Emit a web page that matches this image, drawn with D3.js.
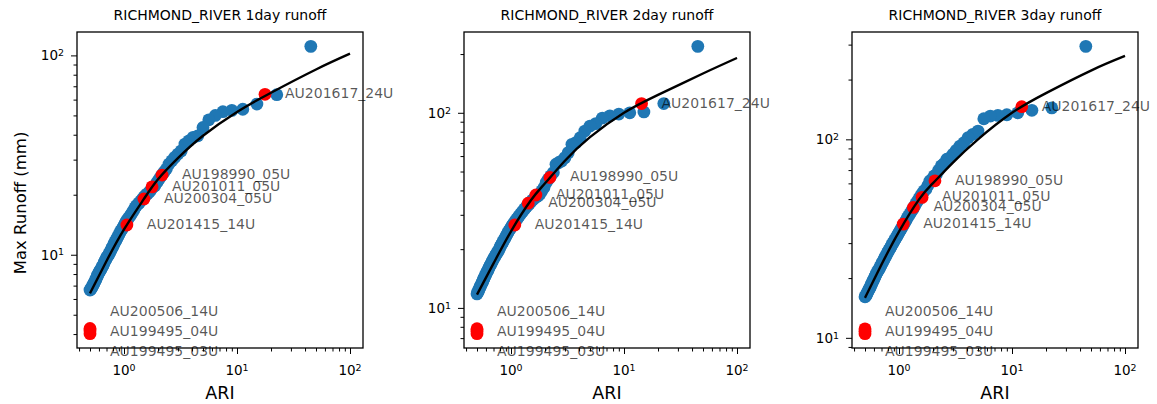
<!DOCTYPE html>
<html>
<head>
<meta charset="utf-8">
<script src="https://cdn.jsdelivr.net/npm/d3@7"></script>
<style>
  html, body { margin: 0; padding: 0; background: #fff; }
  svg { display: block; font-family: "DejaVu Sans", sans-serif; }
</style>
</head>
<body>
<svg id="chart" width="1157" height="404"></svg>
<script>
// ---- data ---------------------------------------------------------------
const site = "RICHMOND_RIVER";
const durations = ["1day", "2day", "3day"];

// ranked annual-recurrence intervals of the observed series (years)
const ari = [45, 22.5, 15, 11.25, 9, 7.5, 6.43, 5.63, 5, 4.5,
  4.09, 3.75, 3.46, 3.21, 3, 2.81, 2.65, 2.5, 2.37, 2.25,
  2.14, 2.05, 1.96, 1.875, 1.8, 1.73, 1.667, 1.607, 1.552, 1.5,
  1.452, 1.406, 1.364, 1.324, 1.286, 1.25, 1.216, 1.184, 1.154, 1.125,
  1.098, 1.071, 1.047, 1.023, 1.0, 0.978, 0.957, 0.938, 0.918, 0.9,
  0.882, 0.865, 0.849, 0.833, 0.818, 0.804, 0.789, 0.776, 0.763, 0.75,
  0.738, 0.726, 0.714, 0.703, 0.692, 0.682, 0.672, 0.662, 0.652, 0.643,
  0.634, 0.625, 0.616, 0.608, 0.6, 0.592, 0.584, 0.577, 0.57, 0.563,
  0.556, 0.549, 0.542, 0.536, 0.529, 0.523, 0.517, 0.511, 0.506, 0.5];

// observed max runoff (mm) per duration, same ranking as ari
const runoff1day = [111, 63.5, 57, 53.7, 53.0, 52.2, 50.0, 47.5, 43.5, 39.5,
  38.8, 37.3, 35.9, 33.2, 32.0, 30.8, 29.6, 28.5, 26.9, 25.9,
  24.9, 24.0, 23.1, 22.2, 21.8, 21.1, 20.6, 20.2, 19.9, 19.5,
  19.0, 18.6, 18.2, 17.9, 17.6, 17.2, 16.7, 16.3, 15.9, 15.6,
  15.3, 15.0, 14.7, 14.4, 14.0, 13.7, 13.4, 13.2, 12.9, 12.6,
  12.3, 12.1, 11.8, 11.6, 11.4, 11.1, 10.9, 10.7, 10.5, 10.3,
  10.1, 9.95, 9.8, 9.7, 9.5, 9.35, 9.2, 9.0, 8.85, 8.7,
  8.6, 8.45, 8.35, 8.25, 8.15, 8.0, 7.9, 7.75, 7.65, 7.5,
  7.4, 7.3, 7.2, 7.1, 7.0, 6.9, 6.85, 6.75, 6.7, 6.65];

const runoff2day = [219, 111.5, 101, 100, 98.5, 96.5, 94, 88, 85.5, 80.6,
  74.5, 70.3, 68.9, 62.5, 58.9, 56.6, 55.6, 54.5, 49.4, 47.5,
  45.7, 44.0, 41.4, 39.8, 38.3, 37.5, 37.0, 36.4, 35.7, 35.0,
  34.2, 33.5, 32.9, 32.2, 31.6, 30.9, 30.3, 29.7, 29.1, 28.5,
  28.0, 27.4, 26.9, 26.4, 25.8, 25.3, 24.8, 24.3, 23.8, 23.2,
  22.7, 22.3, 21.8, 21.4, 21.0, 20.6, 20.1, 19.7, 19.4, 19.1,
  18.8, 18.5, 18.2, 17.9, 17.6, 17.3, 17.0, 16.7, 16.5, 16.2,
  15.9, 15.6, 15.4, 15.1, 14.9, 14.6, 14.4, 14.2, 14.0, 13.7,
  13.5, 13.3, 13.1, 12.9, 12.7, 12.5, 12.3, 12.1, 12.0, 11.8];

const runoff3day = [294, 144, 140, 136, 133, 132, 131, 127, 110, 106,
  102, 96.2, 92.5, 88, 84.1, 80.5, 79.4, 75.5, 73.5, 70,
  66.5, 65.5, 63, 61.7, 58.5, 56, 55.0, 53.5, 51.8, 50.2,
  48.8, 47.3, 45.8, 44.5, 43.3, 42.2, 41.2, 40.2, 39.1, 38.1,
  37.2, 36.3, 35.5, 34.7, 33.9, 33.2, 32.4, 31.8, 31.2, 30.6,
  30.0, 29.4, 28.8, 28.3, 27.8, 27.3, 26.8, 26.3, 25.8, 25.4,
  24.9, 24.4, 24.0, 23.6, 23.2, 22.8, 22.4, 22.1, 21.8, 21.5,
  21.2, 20.8, 20.5, 20.1, 19.8, 19.5, 19.2, 18.9, 18.6, 18.3,
  18.0, 17.8, 17.5, 17.3, 17.0, 16.8, 16.6, 16.4, 16.2, 16.1];

// fitted frequency curve
const fitAri = [0.5, 0.7, 1, 1.5, 2, 3, 5, 10, 20, 50, 100];
const fit1day = [6.4, 9.3, 13.4, 19.05, 23.9, 30.5, 39.5, 52, 65, 85, 102];
const fit2day = [11.7, 16.9, 24.7, 35.6, 43.5, 56.8, 75, 100, 123.5, 159, 191];
const fit3day = [15.9, 23.4, 34.3, 49.7, 60.2, 76.4, 100, 136, 171, 222, 263];

// highlighted events
const eventNames = ["AU201617_24U", "AU198990_05U", "AU201011_05U", "AU200304_05U",
  "AU201415_14U", "AU200506_14U", "AU199495_04U", "AU199495_03U"];
const eventAri1day = [17.7, 2.17, 1.77, 1.5, 1.06, 0.5, 0.5, 0.5];
const eventRunoff1day = [63.8, 25.1, 21.9, 19.05, 14.1, 4.27, 4.14, 4.02];
const eventAri2day = [14.3, 2.21, 1.66, 1.42, 1.08, 0.5, 0.5, 0.5];
const eventRunoff2day = [111.5, 46.6, 37.9, 34.4, 26.6, 7.82, 7.6, 7.38];
const eventAri3day = [12.2, 2.08, 1.6, 1.34, 1.09, 0.5, 0.5, 0.5];
const eventRunoff3day = [146, 61.8, 51, 45.4, 37.4, 11.1, 10.8, 10.5];

const panels = [
  { dur: durations[0], obs: runoff1day, fit: fit1day, evAri: eventAri1day, evVal: eventRunoff1day },
  { dur: durations[1], obs: runoff2day, fit: fit2day, evAri: eventAri2day, evVal: eventRunoff2day },
  { dur: durations[2], obs: runoff3day, fit: fit3day, evAri: eventAri3day, evVal: eventRunoff3day }
];

// ---- layout -------------------------------------------------------------
const svg = d3.select("#chart");
const plotLeft = [77, 464, 852];
const plotTop = 32, plotW = 286, plotH = 316;
const dotR = 6.4;
const blue = "#1f77b4", red = "#ff0000";

// log range padded by 5% on each side (in log space)
function paddedLog(values) {
  const [lo, hi] = d3.extent(values);
  const a = Math.log10(lo), b = Math.log10(hi), m = (b - a) * 0.05;
  return [Math.pow(10, a - m), Math.pow(10, b + m)];
}

function logTicks(domain) {
  const out = [];
  const e0 = Math.floor(Math.log10(domain[0])), e1 = Math.ceil(Math.log10(domain[1]));
  for (let e = e0; e <= e1; e++) {
    for (let k = 1; k <= 9; k++) {
      const v = k * Math.pow(10, e);
      if (v >= domain[0] * 0.9999 && v <= domain[1] * 1.0001) out.push({ v, k, e });
    }
  }
  return out;
}

function powerLabel(sel, e) {
  sel.append("tspan").text("10");
  sel.append("tspan").attr("dy", "-0.45em").attr("font-size", "0.7em").text(String(e));
}

panels.forEach((p, i) => {
  const g = svg.append("g").attr("transform", `translate(${plotLeft[i]},${plotTop})`);

  const x = d3.scaleLog()
    .domain(paddedLog(ari.concat(fitAri, p.evAri)))
    .range([0, plotW]);
  const y = d3.scaleLog()
    .domain(paddedLog(p.obs.concat(p.fit, p.evVal)))
    .range([plotH, 0]);

  // observed points
  g.append("g").selectAll("circle")
    .data(ari.map((a, j) => ({ a, v: p.obs[j] })))
    .join("circle")
    .attr("cx", d => x(d.a)).attr("cy", d => y(d.v))
    .attr("r", dotR).attr("fill", blue);

  // highlighted events
  const events = eventNames.map((n, j) => ({ n, a: p.evAri[j], v: p.evVal[j] }));
  g.append("g").selectAll("circle")
    .data(events)
    .join("circle")
    .attr("cx", d => x(d.a)).attr("cy", d => y(d.v))
    .attr("r", dotR).attr("fill", red);

  // fitted curve
  const line = d3.line()
    .x(d => x(d.a)).y(d => y(d.v))
    .curve(d3.curveNatural);
  g.append("path")
    .datum(fitAri.map((a, j) => ({ a, v: p.fit[j] })))
    .attr("d", line)
    .attr("fill", "none").attr("stroke", "#000").attr("stroke-width", 2.4);

  // axes: minor and major ticks
  const xt = logTicks(x.domain()), yt = logTicks(y.domain());
  const xMinor = d3.axisBottom(x).tickValues(xt.filter(t => t.k !== 1).map(t => t.v)).tickSize(3.5).tickFormat("");
  const xMajor = d3.axisBottom(x).tickValues(xt.filter(t => t.k === 1).map(t => t.v)).tickSize(6).tickFormat("");
  const yMinor = d3.axisLeft(y).tickValues(yt.filter(t => t.k !== 1).map(t => t.v)).tickSize(3.5).tickFormat("");
  const yMajor = d3.axisLeft(y).tickValues(yt.filter(t => t.k === 1).map(t => t.v)).tickSize(6).tickFormat("");
  [xMinor, xMajor].forEach(ax => g.append("g").attr("transform", `translate(0,${plotH})`).call(ax));
  [yMinor, yMajor].forEach(ax => g.append("g").call(ax));
  g.selectAll(".domain").remove();
  g.selectAll(".tick line").attr("stroke", "#000").attr("stroke-width", 1);

  // frame
  g.append("rect").attr("x", 0).attr("y", 0).attr("width", plotW).attr("height", plotH)
    .attr("fill", "none").attr("stroke", "#000").attr("stroke-width", 1.3);

  // tick labels
  xt.filter(t => t.k === 1).forEach(t => {
    const tx = g.append("text").attr("x", x(t.v)).attr("y", plotH + 27)
      .attr("text-anchor", "middle").attr("font-size", 13.5).attr("fill", "#000");
    powerLabel(tx, t.e);
  });
  yt.filter(t => t.k === 1).forEach(t => {
    const ty = g.append("text").attr("x", -13).attr("y", y(t.v) + 5)
      .attr("text-anchor", "end").attr("font-size", 13.5).attr("fill", "#000");
    powerLabel(ty, t.e);
  });

  // event labels; events sharing one ARI are stacked
  const groups = d3.group(events, d => d.a);
  groups.forEach(list => {
    const cy = d3.mean(list, d => y(d.v));
    list.forEach((d, k) => {
      const ly = list.length > 1 ? cy + (k - (list.length - 1) / 2) * 20 : y(d.v) - 1;
      g.append("text").attr("x", x(d.a) + 20).attr("y", ly)
        .attr("dominant-baseline", "central")
        .attr("font-size", 14).attr("fill", "#000").attr("fill-opacity", 0.66)
        .text(d.n);
    });
  });

  // title and x label
  svg.append("text").attr("x", plotLeft[i] + plotW / 2).attr("y", 20)
    .attr("text-anchor", "middle").attr("font-size", 14).attr("fill", "#000")
    .text(`${site} ${p.dur} runoff`);
  svg.append("text").attr("x", plotLeft[i] + plotW / 2).attr("y", 399)
    .attr("text-anchor", "middle").attr("font-size", 17.5).attr("fill", "#000")
    .text("ARI");
});

svg.append("text")
  .attr("transform", "translate(26,203) rotate(-90)")
  .attr("text-anchor", "middle").attr("font-size", 16.5).attr("fill", "#000")
  .text("Max Runoff (mm)");
</script>
</body>
</html>
